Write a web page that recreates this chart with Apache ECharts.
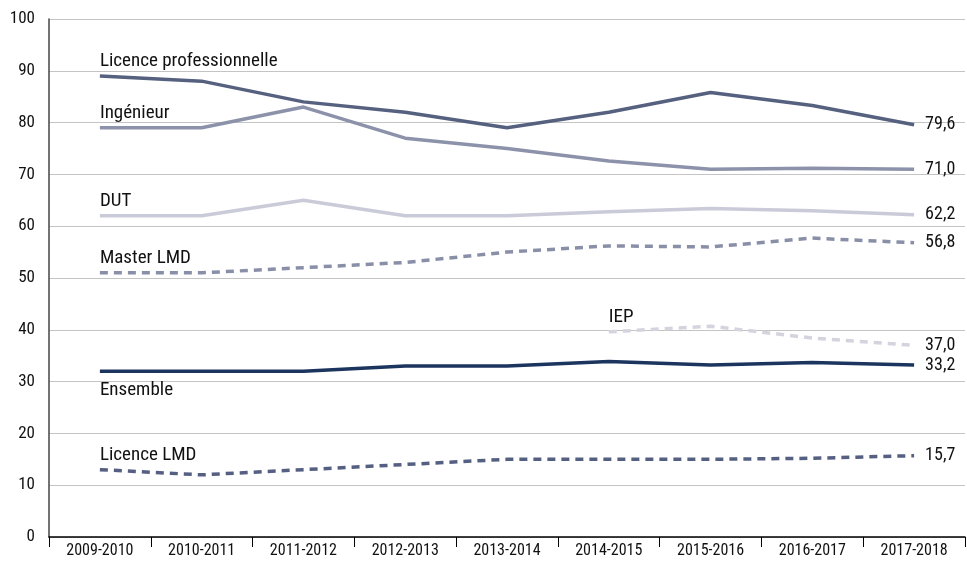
<!DOCTYPE html>
<html>
<head>
<meta charset="utf-8">
<script src="https://cdn.jsdelivr.net/npm/echarts@6/dist/echarts.min.js"></script>
<style>
  html, body { margin: 0; padding: 0; background: #fff; }
  #chart { width: 967px; height: 564px; }
</style>
</head>
<body>
<div id="chart"></div>
<script>
const years = ["2009-2010", "2010-2011", "2011-2012", "2012-2013", "2013-2014", "2014-2015", "2015-2016", "2016-2017", "2017-2018"];
const licencePro = [89, 88, 84, 82, 79, 82, 85.8, 83.3, 79.6];
const ingenieur = [79, 79, 83, 77, 75, 72.6, 71, 71.2, 71.0];
const dut = [62, 62, 65, 62, 62, 62.8, 63.4, 63, 62.2];
const masterLmd = [51, 51, 52, 53, 55, 56.2, 56, 57.7, 56.8];
const iep = [null, null, null, null, null, 39.6, 40.7, 38.4, 37.0];
const ensemble = [32, 32, 32, 33, 33, 33.9, 33.2, 33.7, 33.2];
const licenceLmd = [13, 12, 13, 14, 15, 15, 15, 15.2, 15.7];
const yTicks = [0, 10, 20, 30, 40, 50, 60, 70, 80, 90, 100];

const font = "'Liberation Sans Narrow', 'Roboto Condensed', Roboto, sans-serif";

// name label on first point, value label on last point
function buildData(values, name, namePos) {
  let first = values.findIndex(v => v !== null);
  return values.map((v, i) => {
    if (i === first) {
      return {
        value: v,
        label: {
          show: true, formatter: name, position: namePos,
          align: "left", distance: namePos === "top" ? 5 : 10,
          fontFamily: font, fontSize: 19, color: "#111"
        }
      };
    }
    if (i === values.length - 1) {
      return {
        value: v,
        label: {
          show: true, position: "right", distance: 11,
          formatter: v.toFixed(1).replace(".", ","),
          fontFamily: font, fontSize: 18, color: "#111"
        }
      };
    }
    return v;
  });
}

function line(name, values, color, dashed, namePos) {
  return {
    name: name,
    type: "line",
    symbol: "circle",
    symbolSize: 0,
    showAllSymbol: true,
    data: buildData(values, name, namePos || "top"),
    lineStyle: {
      color: color, width: 3.5,
      type: dashed ? [8, 6] : "solid"
    },
    itemStyle: { color: color },
    emphasis: { disabled: true }
  };
}

const mychart = echarts.init(document.getElementById("chart"));
const option = {
  animation: false,
  grid: { left: 49, right: 2, top: 19, bottom: 27 },
  xAxis: {
    type: "category",
    data: years,
    axisLine: { lineStyle: { color: "#000", width: 1.5 } },
    axisTick: { show: true, length: 10, lineStyle: { color: "#000" } },
    axisLabel: { fontFamily: font, fontSize: 16, color: "#111", margin: 6 }
  },
  yAxis: {
    type: "value",
    min: yTicks[0],
    max: yTicks[yTicks.length - 1],
    interval: 10,
    axisLine: { show: true, lineStyle: { color: "#444", width: 1.5 } },
    axisTick: { show: false },
    axisLabel: { fontFamily: font, fontSize: 17, color: "#111", margin: 14 },
    splitLine: { lineStyle: { color: "#c4c4c4", width: 1 } }
  },
  series: [
    line("Licence professionnelle", licencePro, "#56607f", false),
    line("Ingénieur", ingenieur, "#8d92ab", false),
    line("DUT", dut, "#cacbd8", false),
    line("Master LMD", masterLmd, "#8a8fa8", true),
    line("IEP", iep, "#d4d4de", true),
    line("Ensemble", ensemble, "#1c355e", false, "bottom"),
    line("Licence LMD", licenceLmd, "#555f82", true)
  ]
};
mychart.setOption(option);
</script>
</body>
</html>
